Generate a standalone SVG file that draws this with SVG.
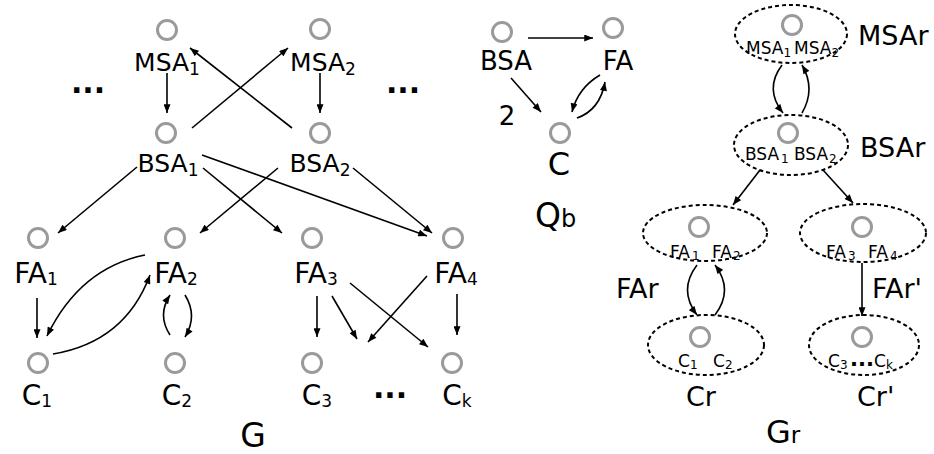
<svg xmlns="http://www.w3.org/2000/svg" width="934" height="454" viewBox="0 0 934 454">
<defs>
<style>
.n{fill:none;stroke:#9a9a9a;stroke-width:3}
.e{fill:none;stroke:#000;stroke-width:2;stroke-dasharray:4 3}
.c path{fill:none;stroke:#000;stroke-width:1.6;marker-end:url(#ah)}
text{font-family:"DejaVu Sans","Liberation Sans",sans-serif;fill:#000}
.m{font-size:25px;text-anchor:middle}
.f{font-size:28px;text-anchor:middle}
.s{font-size:17px}
.i{font-size:17px}
.is{font-size:12px}
.l{font-size:27px}
.d{font-size:30px;font-weight:bold;text-anchor:middle}
</style>
<marker id="ah" viewBox="0 0 10 8" refX="10" refY="4" markerWidth="10" markerHeight="7" markerUnits="userSpaceOnUse" orient="auto"><path d="M0,0 L10,4 L0,8 z" fill="#000"/></marker>
</defs>
<rect width="934" height="454" fill="#fff"/>

<g id="connectors" class="c">
<path d="M167,73 L167,113"/>
<path d="M320,73 L320,113"/>
<path d="M192,128 L288,48"/>
<path d="M292,128 L190,48"/>
<path d="M137,167 L58,233"/>
<path d="M203,168 L282,233"/>
<path d="M202,155 L427,236"/>
<path d="M278,168 L200,233"/>
<path d="M353,168 L432,233"/>
<path d="M37,298 L37,338"/>
<path d="M145,255 Q80,268 47,336"/>
<path d="M53,354 Q125,342 150,275"/>
<path d="M170,335 Q157,315 170,295"/>
<path d="M185,295 Q198,316 185,337"/>
<path d="M317,296 L317,337"/>
<path d="M332,296 L357,339"/>
<path d="M350,283 L428,347"/>
<path d="M427,276 L368,342"/>
<path d="M457,294 L457,335"/>
<path d="M528,38 L593,38"/>
<path d="M511,78 L541,112"/>
<path d="M600,75 Q578,88 572,112"/>
<path d="M577,118 Q600,110 605,82"/>
<path d="M782,65 Q764,89 783,113"/>
<path d="M802,113 Q816,89 802,65"/>
<path d="M760,170 L733,205"/>
<path d="M823,170 L853,203"/>
<path d="M697,265 Q678,290 697,315"/>
<path d="M715,315 Q734,290 715,265"/>
<path d="M862,263 L862,316"/>
</g>

<g id="MSA1"><circle class="n" cx="167" cy="30" r="9.5"/><text class="m" x="167" y="71">MSA<tspan class="s" dy="4">1</tspan></text></g>
<g id="MSA2"><circle class="n" cx="320" cy="29" r="9.5"/><text class="m" x="323" y="71">MSA<tspan class="s" dy="4">2</tspan></text></g>
<g id="BSA1"><circle class="n" cx="166" cy="133" r="9.5"/><text class="m" x="168" y="172">BSA<tspan class="s" dy="4">1</tspan></text></g>
<g id="BSA2"><circle class="n" cx="320" cy="133" r="9.5"/><text class="m" x="320" y="172">BSA<tspan class="s" dy="4">2</tspan></text></g>
<text class="d" x="88" y="93">...</text>
<text class="d" x="403" y="93">...</text>

<g id="FA1"><circle class="n" cx="38" cy="238" r="9.5"/><text class="f" x="36" y="283">FA<tspan class="s" dy="2">1</tspan></text></g>
<g id="FA2"><circle class="n" cx="175" cy="238" r="9.5"/><text class="f" x="176" y="283">FA<tspan class="s" dy="2">2</tspan></text></g>
<g id="FA3"><circle class="n" cx="312" cy="238" r="9.5"/><text class="f" x="316" y="283">FA<tspan class="s" dy="2">3</tspan></text></g>
<g id="FA4"><circle class="n" cx="453" cy="238" r="9.5"/><text class="f" x="456" y="283">FA<tspan class="s" dy="2">4</tspan></text></g>
<g id="C1"><circle class="n" cx="38" cy="363" r="9.5"/><text class="f" x="37" y="405" font-size="30">C<tspan class="s" dy="2">1</tspan></text></g>
<g id="C2"><circle class="n" cx="175" cy="363" r="9.5"/><text class="f" x="177" y="405" font-size="30">C<tspan class="s" dy="2">2</tspan></text></g>
<g id="C3"><circle class="n" cx="312" cy="363" r="9.5"/><text class="f" x="317" y="405" font-size="30">C<tspan class="s" dy="2">3</tspan></text></g>
<g id="Ck"><circle class="n" cx="452" cy="363" r="9.5"/><text class="f" x="457" y="405" font-size="30">C<tspan class="s" dy="2">k</tspan></text></g>
<text class="d" x="390" y="398">...</text>
<text x="253" y="447" font-size="33" text-anchor="middle">G</text>

<g id="BSA"><circle class="n" cx="502" cy="32" r="9.5"/><text x="506" y="70" font-size="26" text-anchor="middle">BSA</text></g>
<g id="FA"><circle class="n" cx="613" cy="28" r="9.5"/><text x="618" y="70" font-size="26" text-anchor="middle">FA</text></g>
<g id="C"><circle class="n" cx="560" cy="133" r="9.5"/><text x="559" y="175" font-size="32" text-anchor="middle">C</text></g>
<text x="507" y="125" font-size="26" text-anchor="middle">2</text>
<text x="535" y="227" font-size="33">Q<tspan font-size="24">b</tspan></text>

<g id="MSAr"><ellipse class="e" cx="791" cy="34" rx="56" ry="29"/><circle class="n" cx="792" cy="25" r="9.5"/>
<text class="i" x="746" y="54">MSA<tspan class="is" dy="3">1</tspan><tspan dx="3" dy="-3">MSA</tspan><tspan class="is" dy="3">2</tspan></text>
<text class="l" x="858" y="45">MSAr</text></g>
<g id="BSAr"><ellipse class="e" cx="791" cy="145" rx="57" ry="30"/><circle class="n" cx="788" cy="133" r="9.5"/>
<text class="i" x="745" y="160">BSA</text><text class="is" x="781" y="163">1</text><text class="i" x="794" y="160">BSA</text><text class="is" x="829" y="163">2</text>
<text class="l" x="860" y="157">BSAr</text></g>
<g id="FAr"><ellipse class="e" cx="705" cy="233" rx="62" ry="28"/><circle class="n" cx="699" cy="227" r="9.5"/>
<text class="i" x="670" y="258">FA</text><text class="is" x="692" y="260">1</text><text class="i" x="712" y="258">FA</text><text class="is" x="733" y="260">2</text>
<text class="l" x="616" y="298">FAr</text></g>
<g id="FAr2"><ellipse class="e" cx="863" cy="233" rx="63" ry="29"/><circle class="n" cx="862" cy="227" r="9.5"/>
<text class="i" x="826" y="258">FA</text><text class="is" x="848" y="260">3</text><text class="i" x="868" y="258">FA</text><text class="is" x="890" y="260">4</text>
<text class="l" x="872" y="298">FAr'</text></g>
<g id="Cr"><ellipse class="e" cx="706" cy="345" rx="58" ry="30"/><circle class="n" cx="700" cy="337" r="9.5"/>
<text class="i" x="678" y="367">C</text><text class="is" x="690" y="369">1</text><text class="i" x="713" y="367">C</text><text class="is" x="725" y="369">2</text>
<text class="l" x="686" y="406" font-size="29">Cr</text></g>
<g id="Cr2"><ellipse class="e" cx="864" cy="345" rx="55" ry="30"/><circle class="n" cx="862" cy="337" r="9.5"/>
<text class="i" x="828" y="367">C</text><text class="is" x="840" y="369">3</text><text x="862" y="366" font-size="21" font-weight="bold" text-anchor="middle">...</text><text class="i" x="874" y="367">C</text><text class="is" x="886" y="369">k</text>
<text class="l" x="857" y="406" font-size="29">Cr'</text></g>
<text x="766" y="443" font-size="32">G<tspan font-size="23">r</tspan></text>
</svg>
